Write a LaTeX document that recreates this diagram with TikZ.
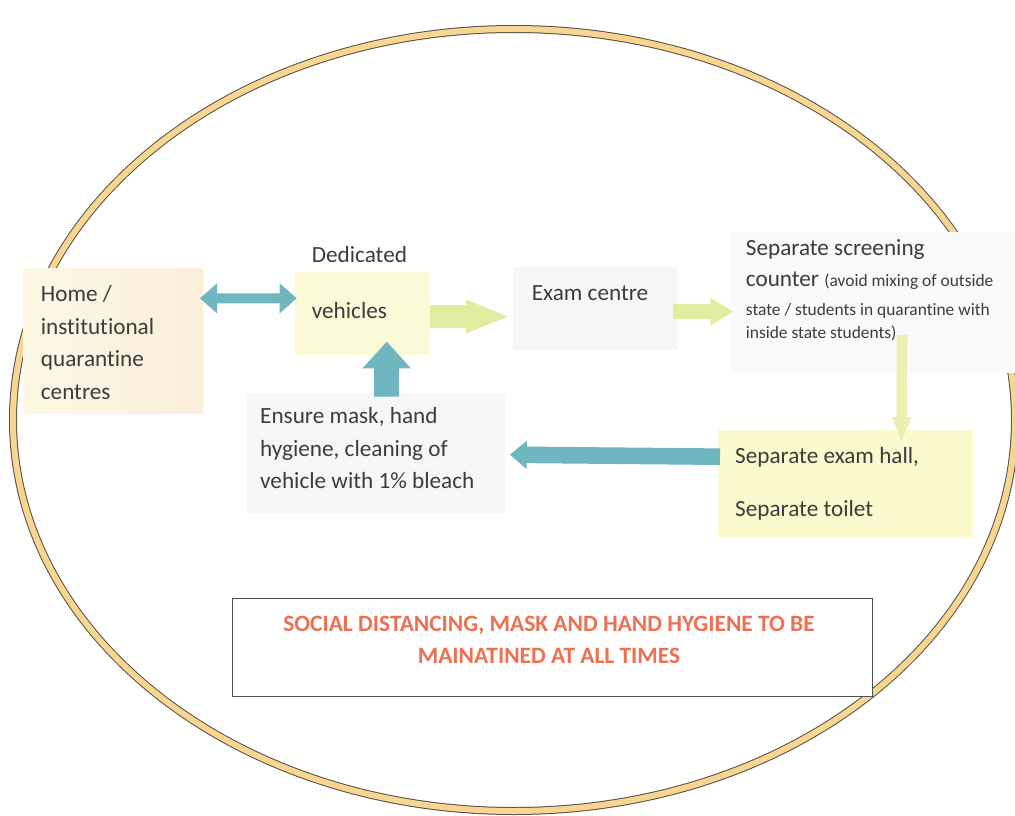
\documentclass[tikz,border=0pt]{standalone}
\usepackage{fontspec}
\setmainfont{Carlito}[Ligatures=NoCommon]
\usetikzlibrary{calc}
\definecolor{txtcol}{RGB}{60,60,60}
\definecolor{ringfill}{RGB}{248,214,145}
\definecolor{ringedge}{RGB}{85,80,70}
\definecolor{tealarr}{RGB}{111,182,193}
\definecolor{yelarr}{RGB}{226,236,160}
\definecolor{yelarrb}{RGB}{234,240,175}
\definecolor{homeL}{RGB}{252,248,228}
\definecolor{homeR}{RGB}{251,238,218}
\definecolor{vehfill}{RGB}{250,250,214}
\definecolor{greyfill}{RGB}{246,247,246}
\definecolor{hallfill}{RGB}{250,250,206}
\definecolor{notecol}{RGB}{238,112,82}
\definecolor{noteedge}{RGB}{80,80,80}
\newcommand\mainfnt{\fontsize{23.2}{32.5}\selectfont}
\newcommand\smallfnt{\fontsize{17.4}{24}\selectfont}
\newcommand\notefnt{\fontsize{23.4}{31.5}\selectfont\bfseries}
% block arrow: #1 style, #2 start, #3 tip, #4 shaft half, #5 head half, #6 head length
\newcommand\blockarrow[6]{%
  \fill[#1] ($#2$) coordinate (ba) ($#3$) coordinate (bb)
    ($(bb)!#6!(ba)$) coordinate (bh)
    ($(ba)!#4!90:(bb)$) -- ($(bh)!#4!90:(bb)$) -- ($(bh)!#5!90:(bb)$) -- (bb)
    -- ($(bh)!#5!-90:(bb)$) -- ($(bh)!#4!-90:(bb)$) -- ($(ba)!#4!-90:(bb)$) -- cycle;}
% double block arrow
\newcommand\dblblockarrow[6]{%
  \fill[#1] ($#2$) coordinate (da) ($#3$) coordinate (db)
    ($(da)!#6!(db)$) coordinate (dha) ($(db)!#6!(da)$) coordinate (dhb)
    (da) -- ($(dha)!#5!90:(db)$) -- ($(dha)!#4!90:(db)$) -- ($(dhb)!#4!90:(db)$)
    -- ($(dhb)!#5!90:(db)$) -- (db) -- ($(dhb)!#5!-90:(db)$) -- ($(dhb)!#4!-90:(db)$)
    -- ($(dha)!#4!-90:(db)$) -- ($(dha)!#5!-90:(db)$) -- cycle;}
\begin{document}
\begin{tikzpicture}[x=1pt,y=-1pt,
  box/.style={rectangle, inner sep=0pt, outer sep=0pt, anchor=north west, draw=none},
  txt/.style={font=\mainfnt, text=txtcol, align=left, inner sep=0pt, anchor=north west},
  ring/.style={draw=ringedge, line width=1pt, double=ringfill, double distance=6pt}]
\useasboundingbox (0,0) rectangle (1015,816);
\fill[white] (0,0) rectangle (1015,816);

% outer ring
\draw[ring] (514,420) ellipse [x radius=501, y radius=391];

% boxes
\node[box, left color=homeL, right color=homeR, minimum width=180pt, minimum height=145pt] (home) at (23,268) {};
\node[box, fill=vehfill, minimum width=135pt, minimum height=83pt] (veh) at (295,272) {};
\node[box, fill=greyfill, minimum width=164pt, minimum height=83pt] (exam) at (513,267) {};
\node[box, fill=greyfill!60!white, minimum width=285pt, minimum height=141pt] (screen) at (730,232) {};
\node[box, fill=greyfill, minimum width=258pt, minimum height=120pt] (ensure) at (247,393) {};
\node[box, fill=hallfill, minimum width=255pt, minimum height=107pt] (hall) at (718,430) {};
\node[box, fill=white, draw=noteedge, line width=1pt, minimum width=640pt, minimum height=98pt] (note) at (232,598) {};

% texts
\node[txt] (homeT) at (40.7,278.95) {\strut Home /\\institutional\\quarantine\\centres};
\node[txt] (dedT) at (311.7,239.95) {\strut Dedicated};
\node[txt] (vehT) at (311.7,295.55) {\strut vehicles};
\node[txt] (examT) at (531.7,277.25) {\strut Exam centre};
\node[txt] (screenT) at (745.7,232.25) {\strut Separate screening\\[-0.8pt]
  counter {\smallfnt (avoid mixing of outside}\\[-4.2pt]
  {\smallfnt state / students in quarantine with}\\[-9.2pt]
  {\smallfnt inside state students)}};
\node[txt] (ensureT) at (260,400.55) {\strut Ensure mask, hand\\hygiene, cleaning of\\vehicle with 1\% bleach};
\node[txt] (hallT) at (735,440.55) {\strut Separate exam hall,\\[20.9pt]Separate toilet};
\node[font=\notefnt, text=notecol, align=center, inner sep=0pt, anchor=north] (noteT) at (549,609.65)
  {\strut SOCIAL DISTANCING, MASK AND HAND HYGIENE TO BE\\MAINATINED AT ALL TIMES};

% arrows
\dblblockarrow{tealarr}{(home.east)+(-3,-42.2)}{(veh.west)+(1.7,-15.2)}{5pt}{15pt}{17pt}
\blockarrow{yelarr}{(veh.east)+(0,3)}{(exam.west)+(-5,8)}{11.5pt}{17pt}{42pt}
\blockarrow{yelarr}{(exam.east)+(-4,3.2)}{(screen.west)+(3.3,9.2)}{7.5pt}{14pt}{23pt}
\blockarrow{tealarr}{(ensure.north)+(10.7,3.7)}{(veh.south)+(24.2,-13.3)}{12.5pt}{24.2pt}{26.6pt}
\blockarrow{yelarrb}{(screen.south)+(29.5,-38)}{(hall.north)+(56,11)}{5.3pt}{10pt}{24pt}
\blockarrow{tealarr}{(hall.west)+(2,-26.8)}{(ensure.east)+(5,1.7)}{8.3pt}{14.2pt}{16.7pt}
\end{tikzpicture}
\end{document}
